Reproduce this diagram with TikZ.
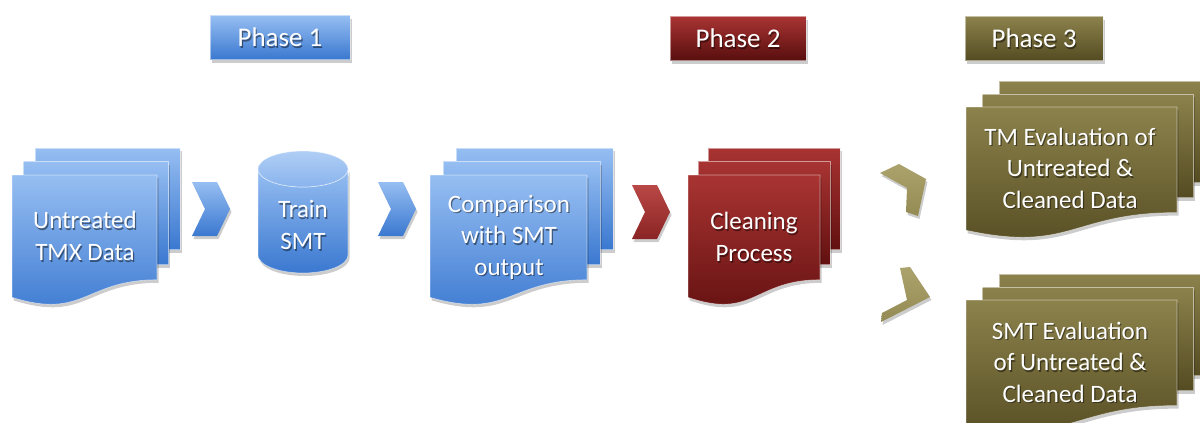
\documentclass[tikz,border=0pt]{standalone}
\usepackage{fontspec}
\setmainfont{Carlito}
\usetikzlibrary{shadows}
\definecolor{bluetop}{RGB}{150,190,242}
\definecolor{bluebot}{RGB}{58,120,208}
\definecolor{redtop}{RGB}{168,52,50}
\definecolor{redbot}{RGB}{98,16,16}
\definecolor{redchevtop}{RGB}{185,72,70}
\definecolor{redchevbot}{RGB}{138,36,36}
\definecolor{olivetop}{RGB}{140,130,76}
\definecolor{olivebot}{RGB}{84,75,34}
\definecolor{chevolivetop}{RGB}{172,162,108}
\definecolor{chevolivebot}{RGB}{148,138,84}
\tikzset{
  pg/.style={line width=0.7pt, draw=white, draw opacity=0.5},
  pshadow/.style={drop shadow={opacity=0.2, shadow xshift=1.5pt, shadow yshift=-3pt, fill=black}},
  lbl/.style={text=white, font=\fontsize{25}{31.5}\selectfont, align=center, inner sep=0pt},
  lblsh/.style={lbl, text=black, text opacity=0.45},
  plbl/.style={lbl, font=\fontsize{27}{31}\selectfont},
  plblsh/.style={plbl, text=black, text opacity=0.45},
  phasebox/.style={pg, pshadow, minimum width=#1, minimum height=44pt, inner sep=0pt},
  olivechev/.style={pshadow, top color=chevolivetop, bottom color=chevolivebot},
}
\newcommand\docstack[8]{%
  \path[pg, pshadow, top color=#7, bottom color=#8] ({#1+2*#5},{#2-2*#6}) rectangle ({#1+#3+2*#5},{#2+0.8*#4-30});
  \path[pg, pshadow, top color=#7, bottom color=#8] ({#1+#5},{#2-#6}) rectangle ({#1+#3+#5},{#2+0.8*#4-15});
  \path[pg, pshadow, top color=#7, bottom color=#8] (#1,#2) -- ({#1+#3},#2) -- ({#1+#3},{#2+0.8*#4})
     .. controls ({#1+0.5*#3},{#2+0.8*#4}) and ({#1+0.5*#3},{#2+1.107*#4}) .. (#1,{#2+0.934*#4}) -- cycle;
}
\newcommand\chev[5]{%
  \begin{scope}[shift={(#1,#2)}, rotate=#3]
    \path[pshadow, top color=#4, bottom color=#5] (-19,-27) -- (6,-27) -- (19,0) -- (6,27) -- (-19,27) -- (-6,0) -- cycle;
  \end{scope}
}
\newcommand\shlabel[4]{%
  \node[lblsh] (#1s) at ({#2+1.2},{#3+1.8}) {#4};
  \node[lbl] (#1) at (#2,#3) {#4};
}
\newcommand\phlabel[4]{%
  \node[plblsh] (#1s) at ({#2+1.2},{#3+1.8}) {#4};
  \node[plbl] (#1) at (#2,#3) {#4};
}
\begin{document}
\begin{tikzpicture}[x=1pt, y=-1pt]
\useasboundingbox (0,0) rectangle (1200,423);
\fill[white] (0,0) rectangle (1200,423);
\clip (0,0) rectangle (1200,423);

% phase boxes
\node[phasebox=140pt, top color=bluetop, bottom color=bluebot] (p1) at (280,37.5) {};
\phlabel{p1t}{280}{37.5}{Phase 1}
\node[phasebox=136pt, top color=redtop, bottom color=redbot!90!black] (p2) at (738,38.5) {};
\phlabel{p2t}{738}{38.5}{Phase 2}
\node[phasebox=138pt, top color=olivetop, bottom color=olivebot] (p3) at (1034,38.5) {};
\phlabel{p3t}{1034}{38.5}{Phase 3}

% Phase 1
\docstack{12}{175}{145}{131}{11.5}{13.5}{bluetop}{bluebot}
\shlabel{untreated}{85}{236}{Untreated\\TMX Data}

\chev{211}{209}{0}{bluetop}{bluebot}

% cylinder
\path[pg, pshadow, top color=bluetop, bottom color=bluebot] (258,169) -- (258,255)
   arc[start angle=180, end angle=0, x radius=45, y radius=18] -- (348,169)
   arc[start angle=0, end angle=180, x radius=45, y radius=18] -- cycle;
\path[pg, top color=bluetop!75!white, bottom color=bluetop!85!bluebot] (303,169) ellipse [x radius=45, y radius=18];
\shlabel{train}{303}{225}{Train\\SMT}

\chev{397}{209}{0}{bluetop}{bluebot}

\docstack{430}{175}{157}{131}{13}{13.5}{bluetop}{bluebot}
\shlabel{compare}{509}{237}{Comparison\\with SMT\\output}

% Phase 2
\chev{651}{212}{0}{redchevtop}{redchevbot}
\docstack{688}{175}{132}{131}{10}{13.5}{redtop}{redbot}
\shlabel{cleaning}{754}{237}{Cleaning\\Process}

% Phase 3 chevrons
\path[olivechev] (880,173) -- (899,164) -- (926,179) -- (918,216) -- (906,212) -- (907,188) -- cycle;
\path[olivechev] (900,268) -- (910,267) -- (930,297) -- (881,322) -- (882,313) -- (907,300) -- cycle;

\docstack{966}{107}{211}{132}{16.5}{13}{olivetop}{olivebot}
\shlabel{tmeval}{1070}{168}{TM Evaluation of\\Untreated \&\\Cleaned Data}
\docstack{966}{300}{211}{132}{16.5}{13}{olivetop}{olivebot}
\shlabel{smteval}{1070}{362}{SMT Evaluation\\of Untreated \&\\Cleaned Data}
\end{tikzpicture}
\end{document}
